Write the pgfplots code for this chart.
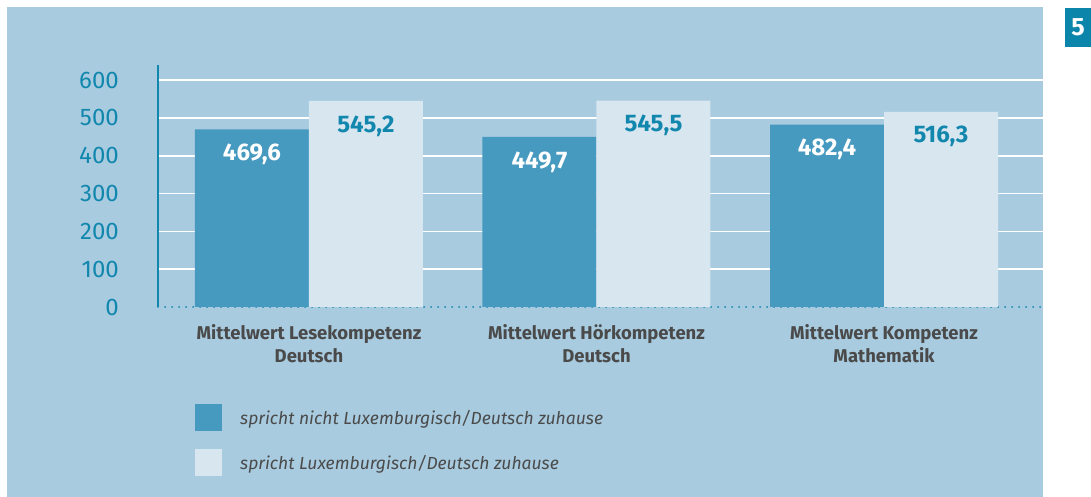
\documentclass[border=0pt]{standalone}
\usepackage{pgfplots}
\pgfplotsset{compat=1.18}
\usepackage{fontspec}
\setmainfont{Fira Sans}
\definecolor{bg}{HTML}{A8CBDF}
\definecolor{darkbar}{HTML}{4699BF}
\definecolor{lightbar}{HTML}{D8E6EF}
\definecolor{tealc}{HTML}{1287AE}
\definecolor{boxc}{HTML}{0B85A9}
\definecolor{txt}{HTML}{4A4A4A}
\begin{document}
\begin{tikzpicture}[x=1pt,y=1pt]
\useasboundingbox (0,0) rectangle (1091,497);
\fill[bg] (7,0) rectangle (1043,490);
\fill[boxc] (1065,450) rectangle (1091,489);
\node[text=white, font=\fontsize{25}{28}\selectfont\bfseries] at (1078,469.5) {5};
\begin{axis}[
  at={(158pt,190pt)}, anchor=south west,
  scale only axis, width=885pt, height=242pt,
  xmin=-0.525, xmax=2.553, ymin=0, ymax=640,
  ybar=0pt, bar width=114pt,
  axis x line*=bottom, axis y line*=left,
  x axis line style={tealc, line width=2pt, line cap=round, dash pattern=on 0pt off 7pt, -},
  y axis line style={tealc, line width=1.2pt, -},
  ytick={100,200,...,600}, extra y ticks={0}, extra y tick style={grid=none},
  xtick={0,1,2},
  xticklabels={{Mittelwert Lesekompetenz\\Deutsch},{Mittelwert Hörkompetenz\\Deutsch},{Mittelwert Kompetenz\\Mathematik}},
  major tick length=0pt,
  ymajorgrids, grid style={white, line width=1.5pt},
  yticklabel style={font=\fontsize{24}{28}\selectfont, text=tealc, anchor=east, inner sep=0pt, xshift=-39pt, /pgf/number format/assume math mode=true},
  xticklabel style={font=\fontsize{18.5}{23}\selectfont\bfseries, text=txt, align=center, anchor=north, inner sep=0pt, yshift=-17pt},
  point meta=explicit symbolic,
  nodes near coords,
  every node near coord/.append style={font=\fontsize{24}{28}\selectfont\bfseries, anchor=center, yshift=-25pt},
  legend style={at={(axis description cs:0.0418,-0.4008)}, anchor=north west, draw=none, fill=none, inner sep=0pt, row sep=18pt, font=\fontsize{17.5}{20}\selectfont\itshape, text=txt, cells={anchor=west}},
  legend cell align=left,
]
\addplot[fill=darkbar, draw=none, every node near coord/.append style={text=white},
  legend image code/.code={\fill[darkbar] (0pt,-13.5pt) rectangle (27pt,13.5pt); \path (43pt,0pt);}]
  coordinates {(0,469.6) [469,6] (1,449.7) [449,7] (2,482.4) [482,4]};
\addplot[fill=lightbar, draw=none, every node near coord/.append style={text=tealc},
  legend image code/.code={\fill[lightbar] (0pt,-13.5pt) rectangle (27pt,13.5pt); \path (43pt,0pt);}]
  coordinates {(0,545.2) [545,2] (1,545.5) [545,5] (2,516.3) [516,3]};
\legend{spricht nicht Luxemburgisch/Deutsch zuhause, spricht Luxemburgisch/Deutsch zuhause}
\end{axis}
\end{tikzpicture}
\end{document}
